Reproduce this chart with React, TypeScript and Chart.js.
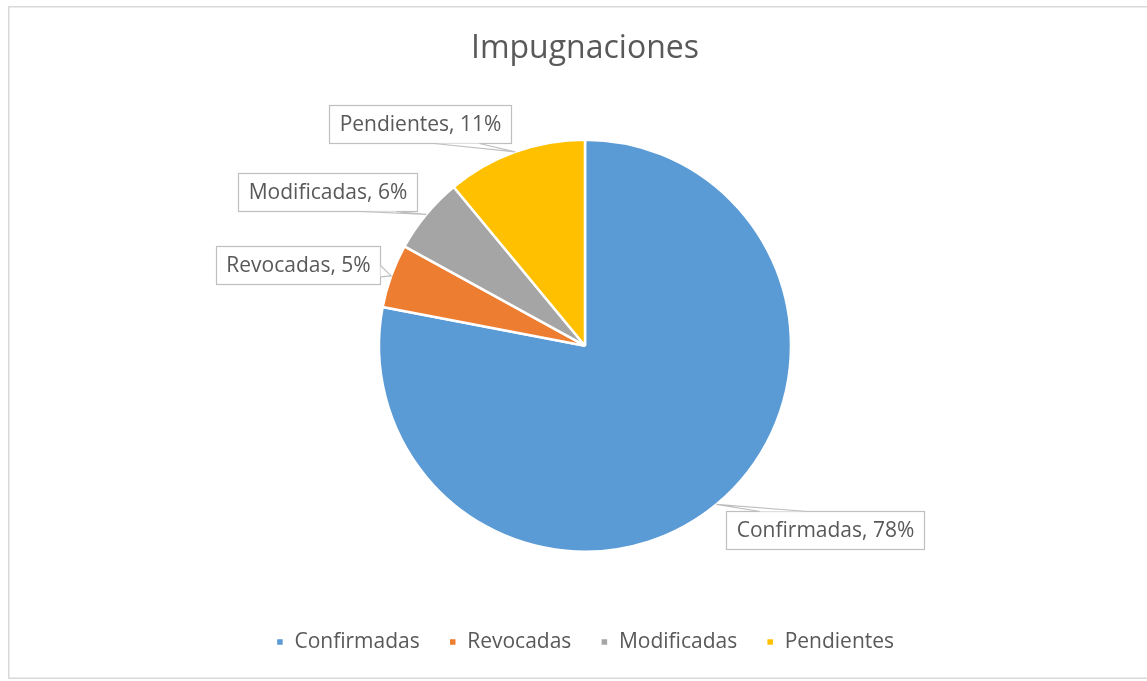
import React, { useEffect, useRef } from "react";
import { Chart, registerables } from "chart.js";

Chart.register(...registerables);

const TITLE = "Impugnaciones";
const categories = ["Confirmadas", "Revocadas", "Modificadas", "Pendientes"];
const values = [78, 5, 6, 11];
const percentLabels = ["78%", "5%", "6%", "11%"];
const colors = ["#5B9BD5", "#ED7D31", "#A5A5A5", "#FFC000"];

const FONT = "'Open Sans', 'Noto Sans', sans-serif";
const TEXT = "#595959";

// label box placement relative to slice mid-angle anchor (style only)
const labelStyle = [
  { dx: 108.5, dy: 25.5, side: "top", from: 0.17, to: 0.41 },
  { dx: -93.5, dy: -10.5, side: "right", from: 0.5, to: 0.8 },
  { dx: -98.5, dy: -22.5, side: "bottom", from: 0.68, to: 0.88 },
  { dx: -95.5, dy: -28, side: "bottom", from: 0.575, to: 0.823 },
];

const calloutPlugin = {
  id: "callouts",
  afterDatasetsDraw(chart: any) {
    const ctx = chart.ctx;
    const meta = chart.getDatasetMeta(0);
    ctx.save();
    ctx.font = `21px ${FONT}`;
    meta.data.forEach((arc: any, i: number) => {
      const mid = (arc.startAngle + arc.endAngle) / 2;
      const ax = arc.x + Math.cos(mid) * arc.outerRadius;
      const ay = arc.y + Math.sin(mid) * arc.outerRadius;
      const text = `${categories[i]}, ${percentLabels[i]}`;
      const tw = ctx.measureText(text).width;
      const w = Math.round(tw + 20);
      const h = 38;
      const st = labelStyle[i];
      const cx = ax + st.dx;
      const cy = ay + st.dy;
      const x0 = Math.round(cx - w / 2) + 0.5;
      const y0 = Math.round(cy - h / 2) + 0.5;
      ctx.fillStyle = "#FFFFFF";
      ctx.fillRect(x0, y0, w, h);
      ctx.strokeStyle = "#BFBFBF";
      ctx.lineWidth = 1.2;
      ctx.strokeRect(x0, y0, w, h);
      let b1x, b1y, b2x, b2y;
      if (st.side === "top" || st.side === "bottom") {
        const yy = st.side === "top" ? y0 : y0 + h;
        b1x = x0 + w * st.from; b2x = x0 + w * st.to; b1y = yy; b2y = yy;
      } else {
        const xx = st.side === "left" ? x0 : x0 + w;
        b1y = y0 + h * st.from; b2y = y0 + h * st.to; b1x = xx; b2x = xx;
      }
      ctx.beginPath();
      ctx.moveTo(b1x, b1y);
      ctx.lineTo(ax, ay);
      ctx.lineTo(b2x, b2y);
      ctx.closePath();
      ctx.fillStyle = "#FFFFFF";
      ctx.fill();
      ctx.beginPath();
      ctx.moveTo(b1x, b1y);
      ctx.lineTo(ax, ay);
      ctx.lineTo(b2x, b2y);
      ctx.stroke();
      ctx.fillStyle = TEXT;
      ctx.textAlign = "center";
      ctx.textBaseline = "middle";
      ctx.fillText(text, x0 + w / 2, y0 + h / 2 + 1);
    });
    ctx.restore();
  },
};

const borderPlugin = {
  id: "outerBorder",
  afterDraw(chart: any) {
    const ctx = chart.ctx;
    ctx.save();
    ctx.strokeStyle = "#D9D9D9";
    ctx.lineWidth = 1.5;
    ctx.strokeRect(8.75, 6.75, chart.width - 17.5, 671.5);
    ctx.restore();
  },
};

export default function App() {
  const ref = useRef<HTMLCanvasElement>(null);
  useEffect(() => {
    if (!ref.current) return;
    const chart = new Chart(ref.current, {
      type: "pie",
      data: {
        labels: categories,
        datasets: [
          {
            data: values,
            backgroundColor: colors,
            borderColor: "#FFFFFF",
            borderWidth: 2.5,
            radius: 206,
          } as any,
        ],
      },
      options: {
        responsive: false,
        animation: false,
        layout: { padding: { top: 0, bottom: 18.5, left: 0, right: 0 } },
        plugins: {
          title: {
            display: true,
            text: TITLE,
            color: TEXT,
            font: { family: FONT, size: 32, weight: "normal" },
            padding: { top: 30, bottom: 20.5 },
          },
          legend: {
            display: true,
            position: "bottom",
            labels: {
              color: TEXT,
              font: { family: FONT, size: 21 },
              boxWidth: 8,
              boxHeight: 8,
              padding: 29,
            },
          },
          tooltip: { enabled: false },
        },
      },
      plugins: [calloutPlugin, borderPlugin],
    });
    return () => chart.destroy();
  }, []);
  return (
    <div style={{ position: "fixed", left: 0, top: 0, width: 1147, height: 681, overflow: "hidden", background: "#fff" }}>
      <canvas ref={ref} width={1170} height={681} style={{ width: 1170, height: 681, display: "block" }} />
    </div>
  );
}
